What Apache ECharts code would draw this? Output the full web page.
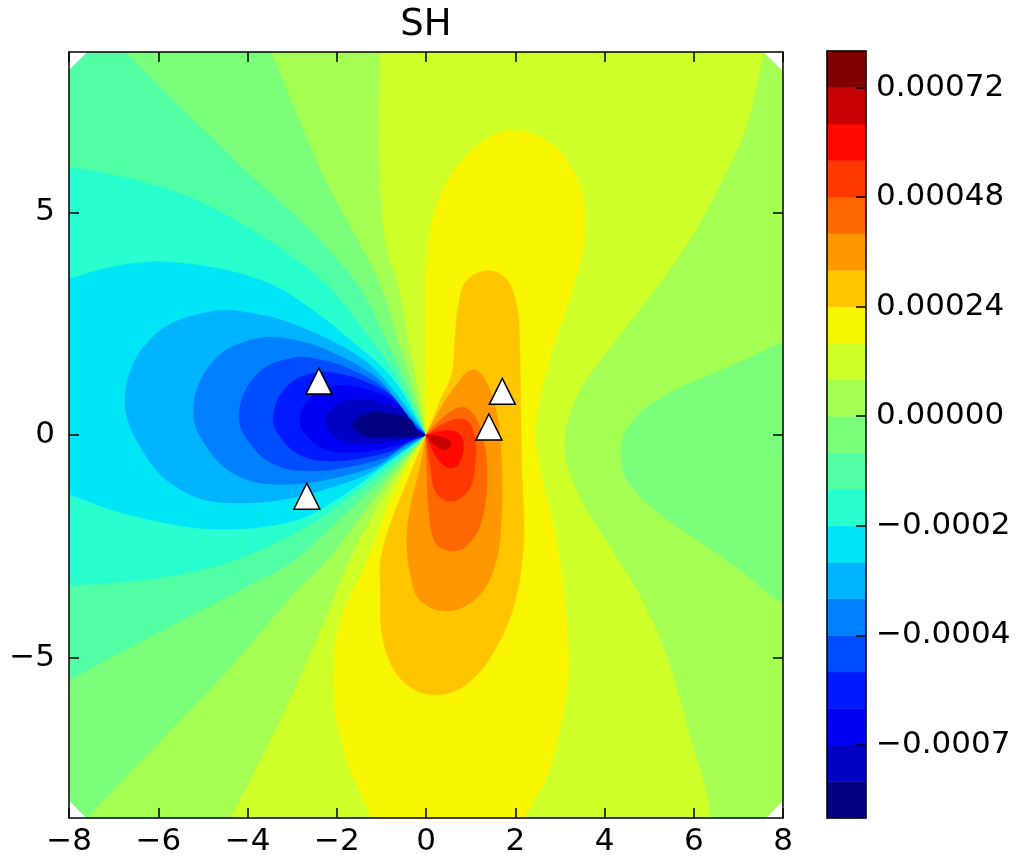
<!DOCTYPE html>
<html><head><meta charset="utf-8">
<script src="https://cdn.jsdelivr.net/npm/echarts@6/dist/echarts.min.js"></script>
<style>html,body{margin:0;padding:0;background:#fff}#c{width:1020px;height:861px}</style>
</head><body><div id="c"></div>
<script>
// ---------- data ----------
const titleText = 'SH';
const xTicks = [-8, -6, -4, -2, 0, 2, 4, 6, 8];
const yTicks = [-5, 0, 5];
const levels = [-0.00088, -0.0008, -0.00072, -0.00064, -0.00056, -0.00048, -0.0004, -0.00032, -0.00024, -0.00016, -0.00008, 0,
  0.00008, 0.00016, 0.00024, 0.00032, 0.0004, 0.00048, 0.00056, 0.00064, 0.00072, 0.0008];
const cbTickValues = [0.00072, 0.00048, 0.00024, 0, -0.00024, -0.00048, -0.00072];
const cbTickLabels = ['0.00072', '0.00048', '0.00024', '0.00000', '\u22120.0002', '\u22120.0004', '\u22120.0007'];
const backgroundBand = 11;

// contour regions (x, y in data units), one ring per filled level set
const band10Left = [[0,0],[-0.41,1.44],[-0.7,2.35],[-1.04,3.4],[-1.65,4.6],[-2.25,5.7],[-2.9,7.2],[-3.48,8.6],[-3.9,9.5],[-9.5,9.5],[-9.5,-9.5],[-8.4,-9.5],[-7.6,-8.6],[-5.96,-6.87],[-4.46,-5.3],[-2.97,-3.57],[-2.22,-2.82],[-0.96,-1.15]];
const band10Right = [[9.5,2.5],[8.0,2.08],[7.0,1.62],[6.0,1.2],[5.2,0.8],[4.7,0.4],[4.42,-0.05],[4.37,-0.45],[4.5,-1.0],[5.1,-1.66],[6.0,-2.3],[7.0,-3.0],[8.0,-3.78],[9.5,-4.5]];
const band9 = [[0,0],[-0.56,1.39],[-1.0,2.35],[-1.55,3.4],[-2.6,4.6],[-4.0,5.9],[-5.45,7.3],[-6.74,8.6],[-7.6,9.5],[-9.5,9.5],[-9.5,-6.3],[-8,-5.49],[-5.5,-4.17],[-4.2,-3.5],[-2.97,-2.82],[-2.0,-1.95],[-1.06,-1.06]];
const band8 = [[0,0],[-0.68,1.34],[-1.4,2.35],[-2.3,3.44],[-3.72,4.49],[-5.21,5.3],[-6.6,5.75],[-8,6.02],[-9.5,6.3],[-9.5,-3.5],[-8,-3.39],[-5.95,-3.2],[-4.32,-2.82],[-2.59,-2.0],[-1.15,-0.96]];
const band7 = [[0,0],[-0.77,1.29],[-1.6,2.05],[-2.6,2.85],[-3.4,3.35],[-4.46,3.7],[-5.96,3.89],[-7,3.78],[-8,3.5],[-9.5,3.0],[-9.5,-0.8],[-8,-1.33],[-6.7,-1.78],[-4.84,-2.11],[-2.97,-1.93],[-1.85,-1.35],[-0.8,-0.58]];
const band6 = [[0,0],[-0.73,1.0],[-1.47,1.74],[-2.97,2.49],[-4.0,2.75],[-4.69,2.79],[-5.73,2.49],[-6.33,1.97],[-6.62,1.45],[-6.74,0.92],[-6.7,0.4],[-6.48,-0.13],[-5.96,-0.88],[-5.4,-1.28],[-4.84,-1.48],[-3.9,-1.52],[-2.97,-1.4],[-1.47,-0.95],[-0.73,-0.5]];
const band5 = [[0,0],[-0.56,0.644],[-1.136,1.309],[-2.298,1.939],[-3.09,2.157],[-3.626,2.19],[-4.429,1.939],[-4.892,1.501],[-5.116,1.064],[-5.21,0.62],[-5.179,0.254],[-5.007,-0.12],[-4.606,-0.649],[-4.173,-0.931],[-3.741,-1.072],[-3.017,-1.1],[-2.298,-1.016],[-1.136,-0.698],[-0.563,-0.312]];
const band4 = [[0,0],[-0.453,0.437],[-0.913,1.033],[-1.848,1.538],[-2.485,1.714],[-2.916,1.74],[-3.562,1.538],[-3.934,1.187],[-4.115,0.837],[-4.19,0.48],[-4.165,0.207],[-4.027,-0.07],[-3.704,-0.465],[-3.356,-0.675],[-3.008,-0.78],[-2.426,-0.8],[-1.848,-0.737],[-0.913,-0.5],[-0.453,-0.211]];
const band3 = [[0,0],[-0.369,0.299],[-0.746,0.855],[-1.508,1.252],[-2.028,1.389],[-2.38,1.41],[-2.907,1.252],[-3.211,0.975],[-3.358,0.7],[-3.42,0.42],[-3.399,0.207],[-3.287,-0.01],[-3.023,-0.318],[-2.739,-0.482],[-2.456,-0.564],[-1.98,-0.58],[-1.508,-0.531],[-0.746,-0.346],[-0.369,-0.142]];
const band2 = [[0,0],[-0.305,0.198],[-0.615,0.689],[-1.244,0.99],[-1.672,1.094],[-1.963,1.11],[-2.397,0.99],[-2.648,0.781],[-2.769,0.572],[-2.82,0.36],[-2.803,0.2],[-2.71,0.038],[-2.493,-0.194],[-2.259,-0.317],[-2.025,-0.378],[-1.633,-0.39],[-1.244,-0.353],[-0.615,-0.215],[-0.305,-0.093]];
const band1 = [[0,0],[-0.244,0.124],[-0.493,0.524],[-0.997,0.728],[-1.34,0.799],[-1.573,0.81],[-1.921,0.728],[-2.122,0.586],[-2.219,0.444],[-2.26,0.3],[-2.246,0.193],[-2.172,0.085],[-1.998,-0.069],[-1.81,-0.151],[-1.623,-0.192],[-1.309,-0.2],[-0.997,-0.176],[-0.493,-0.083],[-0.244,-0.052]];
const band0 = [[0,0],[-0.176,0.064],[-0.355,0.353],[-0.719,0.465],[-0.967,0.504],[-1.134,0.51],[-1.386,0.465],[-1.531,0.387],[-1.601,0.309],[-1.63,0.23],[-1.62,0.17],[-1.566,0.11],[-1.441,0.023],[-1.306,-0.023],[-1.17,-0.046],[-0.944,-0.05],[-0.719,-0.04],[-0.355,-0.03],[-0.176,-0.02]];
const band12 = [[0,0],[-0.26,1.48],[-0.45,2.4],[-0.6,3.3],[-0.9,4.3],[-1.05,6.4],[-1.02,8.6],[-1.0,9.5],[7.9,9.5],[7.57,8.6],[7.2,7.0],[6.65,5.75],[5.95,4.45],[5.3,3.5],[4.15,2.0],[3.39,0.91],[3.09,-0.2],[3.39,-1.3],[4.06,-2.41],[4.73,-3.51],[5.26,-4.62],[5.63,-5.72],[5.93,-6.82],[6.26,-7.93],[6.38,-8.62],[6.5,-9.5],[-4.8,-9.5],[-4.39,-8.62],[-3.55,-7.0],[-2.75,-5.3],[-2.2,-4.0],[-1.72,-2.82],[-0.86,-1.23]];
const band13 = [[0,0],[0,1.5],[0,3.5],[0.1,4.64],[0.32,5.38],[0.77,6.13],[1.37,6.66],[2.04,6.84],[2.86,6.5],[3.39,5.75],[3.57,5.0],[3.53,4.25],[3.24,3.13],[2.86,2.0],[2.56,0.88],[2.45,0.0],[2.6,-1.0],[2.86,-2.04],[3.05,-3.2],[3.15,-4.3],[3.2,-5.3],[3.01,-6.54],[2.71,-7.66],[2.19,-8.62],[1.8,-9.5],[-0.9,-9.5],[-1.21,-8.62],[-1.77,-7.31],[-2.07,-5.82],[-1.96,-4.32],[-1.32,-2.82],[-0.73,-1.31]];
const band14 = [[0,0],[0.32,0.77],[0.58,1.37],[0.65,2.2],[0.72,2.87],[0.9,3.45],[1.37,3.69],[1.8,3.5],[2.04,2.87],[2.1,2.0],[2.11,1.37],[2.15,-0.88],[2.19,-2.38],[1.96,-3.87],[1.44,-5.0],[0.9,-5.6],[0.39,-5.82],[-0.2,-5.75],[-0.7,-5.3],[-0.98,-4.5],[-1.02,-3.5],[-1.02,-2.82],[-0.8,-2.0],[-0.56,-1.39]];
const band15 = [[0,0],[0.45,0.8],[0.7,1.15],[0.9,1.4],[1.14,1.45],[1.35,1.2],[1.5,0.8],[1.62,0.3],[1.67,-0.13],[1.7,-1.0],[1.7,-1.63],[1.59,-2.75],[1.22,-3.57],[0.54,-3.95],[-0.13,-3.72],[-0.35,-3.12],[-0.43,-2.38],[-0.35,-1.63],[-0.13,-0.73]];
const band16 = [[0,0],[0.45,0.45],[0.84,0.62],[1.1,0.4],[1.29,-0.13],[1.37,-1.03],[1.22,-2.0],[0.9,-2.5],[0.54,-2.6],[0.2,-2.4],[0.06,-1.63],[0.02,-0.88]];
const band17 = [[0,0],[0.5,0.3],[0.92,0.32],[1.1,-0.1],[1.11,-0.5],[0.99,-1.18],[0.62,-1.48],[0.25,-1.33],[0.1,-0.73]];
const band18 = [[0,0],[0.45,0.1],[0.77,0.0],[0.83,-0.35],[0.7,-0.68],[0.5,-0.73],[0.25,-0.52]];
const band19 = [[0,0],[0.35,-0.05],[0.55,-0.15],[0.5,-0.3],[0.3,-0.3]];

// areas with no data (white corners)
const maskCorners = [
  [[-8.5,7.7],[-7.1,9.1],[-8.5,9.1]],
  [[7.07,9.1],[8.5,7.67],[8.5,9.1]],
  [[7.12,-9.1],[8.5,-7.72],[8.5,-9.1]],
  [[-7.12,-9.1],[-8.5,-7.72],[-8.5,-9.1]]
];

// station markers
const markerX = [-2.40, -2.67, 1.71, 1.41];
const markerY = [1.21, -1.375, 0.98, 0.18];

// ---------- styles ----------
const bandColors = ['#000080','#0000c4','#0000f3','#001aff','#004cff','#0080ff','#00b3ff','#00e6f7','#29ffce','#52ffa4',
  '#7bff7b','#a4ff52','#ceff29','#f7f500','#ffc600','#ff9700','#ff6800','#ff3900','#ff0900','#c40000','#800000'];
const FONT = 'DejaVu Sans';

const layers = [
  {band:10, ring:band10Left},{band:10, ring:band10Right},{band:9, ring:band9},{band:8, ring:band8},{band:7, ring:band7},
  {band:6, ring:band6},{band:5, ring:band5},{band:4, ring:band4},{band:3, ring:band3},{band:2, ring:band2},
  {band:1, ring:band1},{band:0, ring:band0},
  {band:12, ring:band12},{band:13, ring:band13},{band:14, ring:band14},{band:15, ring:band15},{band:16, ring:band16},
  {band:17, ring:band17},{band:18, ring:band18},{band:19, ring:band19}
];

// smooth closed outline through the ring points (sharp at the source point and off-plot points)
function ringPath(ring, api) {
  const P = ring.map(p => api.coord(p));
  const n = P.length;
  const sharp = ring.map(p => (p[0] === 0 && p[1] === 0) || Math.abs(p[0]) > 8.9 || Math.abs(p[1]) > 8.9);
  const tan = P.map((p, i) => {
    if (sharp[i]) return null;
    const a = P[(i - 1 + n) % n], b = P[(i + 1) % n];
    const dx = b[0] - a[0], dy = b[1] - a[1], L = Math.hypot(dx, dy) || 1;
    return [dx / L, dy / L];
  });
  let d = 'M' + P[0][0].toFixed(2) + ',' + P[0][1].toFixed(2);
  for (let i = 0; i < n; i++) {
    const a = P[i], b = P[(i + 1) % n], j = (i + 1) % n;
    const L = Math.hypot(b[0] - a[0], b[1] - a[1]);
    const c1 = tan[i] ? [a[0] + tan[i][0] * L / 3, a[1] + tan[i][1] * L / 3] : [a[0] + (b[0] - a[0]) / 3, a[1] + (b[1] - a[1]) / 3];
    const c2 = tan[j] ? [b[0] - tan[j][0] * L / 3, b[1] - tan[j][1] * L / 3] : [b[0] - (b[0] - a[0]) / 3, b[1] - (b[1] - a[1]) / 3];
    d += 'C' + c1[0].toFixed(2) + ',' + c1[1].toFixed(2) + ' ' + c2[0].toFixed(2) + ',' + c2[1].toFixed(2) + ' ' + b[0].toFixed(2) + ',' + b[1].toFixed(2);
  }
  return d + 'Z';
}

const minus = v => (v < 0 ? '\u2212' : '') + Math.abs(v);
const axisLineStyle = {color:'#000', width:1.5};

const chart = echarts.init(document.getElementById('c'), null, {renderer:'canvas'});
chart.setOption({
  animation:false,
  backgroundColor:'#fff',
  graphic:[{type:'text', x:426, y:25.5, z:100, style:{text:titleText, font:'37px "DejaVu Sans"', fill:'#000', textAlign:'center', textVerticalAlign:'middle'}}],
  grid:[
    {left:69, top:52, width:714, height:766, show:true, backgroundColor:bandColors[backgroundBand], borderWidth:0},
    {left:827, top:51, width:39, height:767, show:false}
  ],
  xAxis:[
    {gridIndex:0, type:'value', min:-8, max:8, interval:2, position:'bottom', z:10,
      axisLine:{show:true, onZero:false, lineStyle:axisLineStyle},
      axisTick:{show:true, inside:true, length:10, lineStyle:axisLineStyle},
      axisLabel:{show:true, margin:8, fontSize:31, fontFamily:FONT, color:'#000', formatter:minus},
      splitLine:{show:false}},
    {gridIndex:0, type:'value', min:-8, max:8, interval:2, position:'top', z:10,
      axisLine:{show:true, onZero:false, lineStyle:axisLineStyle},
      axisTick:{show:true, inside:true, length:10, lineStyle:axisLineStyle},
      axisLabel:{show:false}, splitLine:{show:false}},
    {gridIndex:1, type:'value', min:0, max:1, position:'bottom', z:10,
      axisLine:{show:true, onZero:false, lineStyle:axisLineStyle}, axisTick:{show:false}, axisLabel:{show:false}, splitLine:{show:false}},
    {gridIndex:1, type:'value', min:0, max:1, position:'top', z:10,
      axisLine:{show:true, onZero:false, lineStyle:axisLineStyle}, axisTick:{show:false}, axisLabel:{show:false}, splitLine:{show:false}}
  ],
  yAxis:[
    {gridIndex:0, type:'value', min:-8.6, max:8.6, position:'left', z:10,
      axisLine:{show:true, onZero:false, lineStyle:axisLineStyle},
      axisTick:{show:true, inside:true, length:10, customValues:yTicks, lineStyle:axisLineStyle},
      axisLabel:{show:true, margin:14, fontSize:31, fontFamily:FONT, color:'#000', customValues:yTicks, formatter:minus},
      splitLine:{show:false}},
    {gridIndex:0, type:'value', min:-8.6, max:8.6, position:'right', z:10,
      axisLine:{show:true, onZero:false, lineStyle:axisLineStyle},
      axisTick:{show:true, inside:true, length:10, customValues:yTicks, lineStyle:axisLineStyle},
      axisLabel:{show:false}, splitLine:{show:false}},
    {gridIndex:1, type:'value', min:levels[0], max:levels[levels.length-1], position:'left', z:10,
      axisLine:{show:true, onZero:false, lineStyle:axisLineStyle}, axisTick:{show:false}, axisLabel:{show:false}, splitLine:{show:false}},
    {gridIndex:1, type:'value', min:levels[0], max:levels[levels.length-1], position:'right', z:10,
      axisLine:{show:true, onZero:false, lineStyle:axisLineStyle},
      axisTick:{show:true, inside:true, length:10, customValues:cbTickValues, lineStyle:axisLineStyle},
      axisLabel:{show:true, margin:10, fontSize:31, fontFamily:FONT, color:'#000', customValues:cbTickValues,
        formatter:v => { const i = cbTickValues.findIndex(t => Math.abs(t - v) < 1e-9); return i >= 0 ? cbTickLabels[i] : ''; }},
      splitLine:{show:false}}
  ],
  series:[
    {type:'custom', xAxisIndex:0, yAxisIndex:0, clip:true, silent:true, z:2,
      data: layers.map((l, i) => [i, l.band]),
      renderItem:(params, api) => {
        const l = layers[params.dataIndex];
        const c = bandColors[l.band];
        return {type:'path', shape:{pathData:ringPath(l.ring, api)}, style:{fill:c, stroke:c, lineWidth:0.6}};
      }},
    {type:'custom', xAxisIndex:0, yAxisIndex:0, clip:true, silent:true, z:3,
      data: maskCorners.map((m, i) => [i, 0]),
      renderItem:(params, api) => ({type:'polygon', shape:{points:maskCorners[params.dataIndex].map(p => api.coord(p))},
        style:{fill:'#fff', stroke:'#fff', lineWidth:0.5}})},
    {type:'scatter', xAxisIndex:0, yAxisIndex:0, z:5, silent:true,
      symbol:'triangle', symbolSize:[26, 26],
      itemStyle:{color:'#fff', borderColor:'#000', borderWidth:1.5, opacity:1},
      data: markerX.map((x, i) => [x, markerY[i]])},
    {type:'custom', xAxisIndex:2, yAxisIndex:3, clip:false, silent:true, z:2,
      data: levels.slice(0, -1).map((lo, i) => [lo, levels[i + 1], i]),
      encode:{y:[0, 1]},
      renderItem:(params, api) => {
        const p0 = api.coord([0, api.value(0)]);
        const p1 = api.coord([1, api.value(1)]);
        return {type:'rect', shape:{x:p0[0], y:p1[1], width:p1[0] - p0[0], height:p0[1] - p1[1]},
          style:{fill:bandColors[api.value(2)], stroke:bandColors[api.value(2)], lineWidth:0.5}};
      }}
  ]
});
</script></body></html>
